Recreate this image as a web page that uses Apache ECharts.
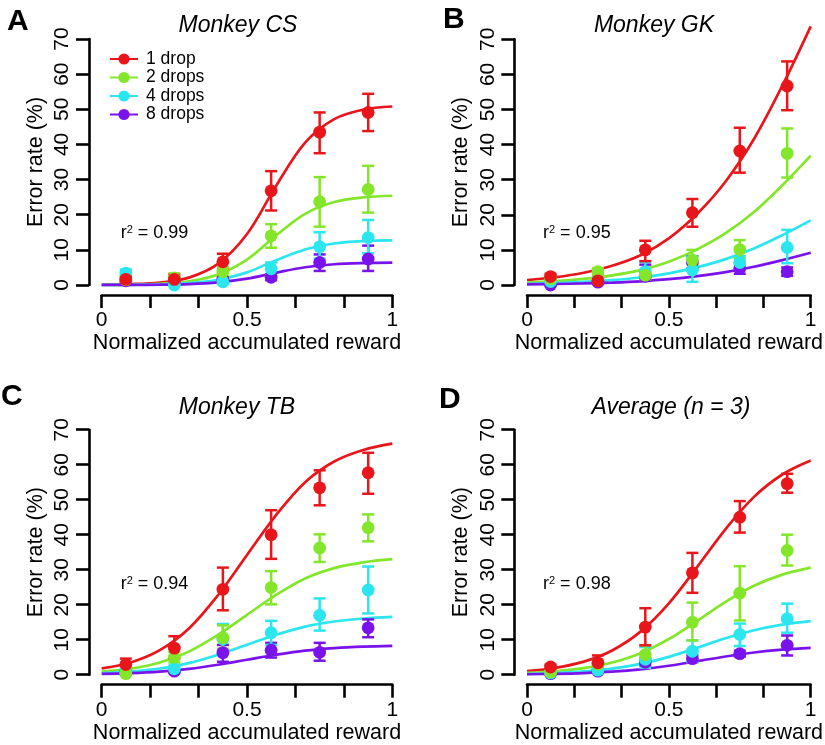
<!DOCTYPE html>
<html>
<head>
<meta charset="utf-8">
<script src="https://cdn.jsdelivr.net/npm/echarts@6/dist/echarts.min.js"></script>
<style>
html,body{margin:0;padding:0;background:#fff;}
#chart{width:825px;height:745px;}
</style>
</head>
<body>
<div id="chart"></div>
<script>
// ---------- data ----------
const binX = [0.083, 0.25, 0.417, 0.583, 0.75, 0.917];
const curveX = [0, 0.1, 0.2, 0.3, 0.4, 0.5, 0.6, 0.7, 0.8, 0.9, 1.0];
const dropNames = ['1 drop', '2 drops', '4 drops', '8 drops'];
const panelTitles = ['Monkey CS', 'Monkey GK', 'Monkey TB', 'Average (n = 3)'];
const panelLetters = ['A', 'B', 'C', 'D'];
const r2Values = ['0.99', '0.95', '0.94', '0.98'];
const yTicks = [0, 10, 20, 30, 40, 50, 60, 70];
const xTickValues = [0, 0.16667, 0.33333, 0.5, 0.66667, 0.83333, 1];
const xTickLabels = [0, 0.5, 1];

// Panel A (Monkey CS)
const A1 = [1.6, 1.6, 6.6, 26.8, 43.5, 49.1], A1lo = [0.6, 0.4, 4.4, 21.2, 37.5, 43.8], A1hi = [2.6, 2.9, 8.9, 32.4, 49.1, 54.4];
const A2 = [1.5, 2.0, 3.8, 14.0, 23.7, 27.2], A2lo = [0.7, 1.0, 2.5, 10.6, 16.6, 20.6], A2hi = [2.3, 3.3, 5.1, 17.3, 30.7, 33.9];
const A4 = [3.4, 0.0, 0.9, 4.6, 10.9, 13.5], A4lo = [2.4, 0.0, 0.3, 2.8, 7.5, 9.0], A4hi = [4.4, 0.8, 1.6, 6.4, 15.0, 18.5];
const A8 = [1.2, 0.8, 1.6, 2.2, 6.4, 7.4], A8lo = [0.6, 0.3, 1.0, 1.4, 4.0, 4.0], A8hi = [1.8, 1.3, 2.3, 3.0, 8.7, 11.2];
const A1c = [0.08, 0.24, 0.72, 2.1, 6.0, 14.5, 28.2, 40.5, 47.2, 49.9, 50.8];
const A2c = [0.04, 0.12, 0.36, 1.05, 3.0, 7.25, 14.1, 20.25, 23.6, 24.95, 25.4];
const A4c = [0.02, 0.06, 0.18, 0.53, 1.5, 3.6, 7.05, 10.1, 11.8, 12.5, 12.7];
const A8c = [0.01, 0.03, 0.09, 0.26, 0.75, 1.8, 3.5, 5.05, 5.9, 6.24, 6.35];

// Panel B (Monkey GK)
const B1 = [2.4, 1.2, 10.0, 20.6, 38.2, 56.7], B1lo = [1.6, 0.6, 6.8, 16.6, 32.0, 49.8], B1hi = [3.2, 1.8, 12.6, 24.5, 44.8, 63.7];
const B2 = [1.8, 3.8, 2.8, 7.1, 10.1, 37.5], B2lo = [1.0, 2.8, 1.6, 4.2, 7.6, 30.6], B2hi = [2.6, 4.8, 4.4, 10.0, 12.8, 44.6];
const B4 = [1.0, 1.4, 3.8, 4.3, 6.4, 10.7], B4lo = [0.4, 0.8, 1.8, 0.9, 4.6, 6.2], B4hi = [1.6, 2.0, 6.6, 8.1, 8.2, 15.7];
const B8 = [0.0, 0.8, 2.5, 6.5, 4.7, 3.8], B8lo = [0.0, 0.4, 1.2, 4.8, 3.2, 2.6], B8hi = [0.6, 1.2, 5.8, 8.2, 6.2, 5.0];
const B1c = [1.4, 2.2, 3.5, 5.5, 8.5, 13.3, 20.3, 29.5, 41.6, 56.8, 73.7];
const B2c = [0.7, 1.1, 1.75, 2.75, 4.25, 6.65, 10.15, 14.75, 20.8, 28.4, 36.85];
const B4c = [0.35, 0.55, 0.88, 1.38, 2.13, 3.33, 5.08, 7.38, 10.4, 14.2, 18.4];
const B8c = [0.18, 0.28, 0.44, 0.69, 1.06, 1.66, 2.54, 3.69, 5.2, 7.1, 9.2];

// Panel C (Monkey TB)
const C1 = [2.9, 7.6, 24.4, 40.0, 53.4, 57.7], C1lo = [1.2, 4.6, 18.4, 33.1, 48.4, 51.7], C1hi = [4.6, 11.0, 30.6, 47.0, 58.4, 63.4];
const C2 = [0.3, 5.0, 10.6, 24.9, 36.2, 42.0], C2lo = [0.0, 3.5, 7.4, 20.1, 32.2, 38.1], C2hi = [1.0, 6.5, 14.1, 29.6, 40.1, 45.8];
const C4 = [0.8, 1.7, 10.2, 12.0, 17.0, 24.2], C4lo = [0.2, 0.8, 7.0, 8.5, 12.6, 17.5], C4hi = [1.4, 2.6, 14.5, 15.4, 21.8, 30.9];
const C8 = [0.5, 1.0, 6.3, 7.0, 6.4, 13.4], C8lo = [0.1, 0.5, 3.7, 4.9, 4.0, 10.7], C8hi = [0.9, 1.5, 8.5, 9.1, 9.1, 15.8];
const C1c = [1.8, 3.5, 7.0, 13.2, 22.7, 34.2, 45.6, 55.0, 60.9, 64.2, 66.0];
const C2c = [0.9, 1.75, 3.5, 6.6, 11.35, 17.1, 22.8, 27.5, 30.45, 32.1, 33.0];
const C4c = [0.45, 0.88, 1.75, 3.3, 5.7, 8.55, 11.4, 13.75, 15.2, 16.05, 16.5];
const C8c = [0.22, 0.44, 0.88, 1.65, 2.84, 4.28, 5.7, 6.88, 7.6, 8.03, 8.25];

// Panel D (Average)
const D1 = [2.2, 3.4, 13.6, 29.1, 45.0, 54.6], D1lo = [1.5, 1.7, 8.4, 23.4, 40.6, 52.0], D1hi = [2.9, 5.5, 19.0, 34.8, 49.6, 57.4];
const D2 = [0.8, 3.0, 5.7, 15.0, 23.3, 35.5], D2lo = [0.3, 2.0, 3.5, 9.8, 15.5, 31.2], D2hi = [1.3, 4.0, 8.4, 20.6, 31.0, 40.0];
const D4 = [0.5, 1.3, 4.4, 6.7, 11.5, 16.0], D4lo = [0.2, 0.7, 2.0, 3.6, 8.2, 12.0], D4hi = [0.8, 1.9, 7.9, 9.8, 14.6, 20.3];
const D8 = [0.3, 1.0, 3.6, 4.6, 6.0, 8.4], D8lo = [0.1, 0.6, 2.6, 3.6, 5.2, 5.5], D8hi = [0.5, 1.4, 4.6, 5.6, 6.8, 11.2];
const D1c = [1.0, 1.96, 3.73, 6.93, 12.3, 20.4, 30.8, 41.6, 50.8, 57.2, 61.2];
const D2c = [0.5, 0.98, 1.87, 3.47, 6.15, 10.2, 15.4, 20.8, 25.4, 28.6, 30.6];
const D4c = [0.25, 0.49, 0.93, 1.73, 3.08, 5.1, 7.7, 10.4, 12.7, 14.3, 15.3];
const D8c = [0.13, 0.25, 0.47, 0.87, 1.54, 2.55, 3.85, 5.2, 6.35, 7.15, 7.65];

// ---------- assembly ----------
const colors = ['#e8161b', '#84e62a', '#2be6ef', '#7a12ec'];
const FONT = "'Liberation Sans', Arial, Helvetica, sans-serif";

const panels = [
  {mean: [A1, A2, A4, A8], lo: [A1lo, A2lo, A4lo, A8lo], hi: [A1hi, A2hi, A4hi, A8hi], curve: [A1c, A2c, A4c, A8c]},
  {mean: [B1, B2, B4, B8], lo: [B1lo, B2lo, B4lo, B8lo], hi: [B1hi, B2hi, B4hi, B8hi], curve: [B1c, B2c, B4c, B8c]},
  {mean: [C1, C2, C4, C8], lo: [C1lo, C2lo, C4lo, C8lo], hi: [C1hi, C2hi, C4hi, C8hi], curve: [C1c, C2c, C4c, C8c]},
  {mean: [D1, D2, D4, D8], lo: [D1lo, D2lo, D4lo, D8lo], hi: [D1hi, D2hi, D4hi, D8hi], curve: [D1c, D2c, D4c, D8c]}
];

// layout (pixels)
const grids = [
  {left: 101.7, top: 39, width: 290.6, height: 246},
  {left: 527, top: 39.3, width: 290.3, height: 245.7},
  {left: 101.7, top: 429.7, width: 290.6, height: 245},
  {left: 527, top: 429.7, width: 290.3, height: 245}
];
const titlePos = [[238, 26], [654, 26], [237, 408], [671, 408]];
const letterPos = [[7, 7], [443, 5], [1, 382], [439, 385]];
const r2Pos = [[120.7, 233], [543, 233], [120.7, 584], [543, 584]];

function errRender(params, api) {
  const x = api.value(0), lo = api.value(1), hi = api.value(2);
  const pLo = api.coord([x, lo]), pHi = api.coord([x, hi]);
  const hw = 6;
  const style = {stroke: api.visual('color'), lineWidth: 2.5, fill: null};
  return {
    type: 'group',
    children: [
      {type: 'line', shape: {x1: pLo[0], y1: pLo[1], x2: pHi[0], y2: pHi[1]}, style: style},
      {type: 'line', shape: {x1: pLo[0] - hw, y1: pLo[1], x2: pLo[0] + hw, y2: pLo[1]}, style: style},
      {type: 'line', shape: {x1: pHi[0] - hw, y1: pHi[1], x2: pHi[0] + hw, y2: pHi[1]}, style: style}
    ]
  };
}

const series = [];
panels.forEach((p, pi) => {
  for (let d = 0; d < 4; d++) {
    series.push({
      type: 'line', name: dropNames[d], xAxisIndex: pi, yAxisIndex: pi,
      data: curveX.map((x, i) => [x, p.curve[d][i]]),
      smooth: 0.35, symbol: 'circle', showSymbol: false, clip: false,
      lineStyle: {color: colors[d], width: 2.7}, itemStyle: {color: colors[d]},
      silent: true, z: 2
    });
  }
});
panels.forEach((p, pi) => {
  for (let d = 3; d >= 0; d--) {
    series.push({
      type: 'custom', name: dropNames[d] + ' err', xAxisIndex: pi, yAxisIndex: pi,
      renderItem: errRender, clip: false, silent: true,
      itemStyle: {color: colors[d]},
      encode: {x: 0, y: [1, 2]},
      data: binX.map((x, i) => [x, p.lo[d][i], p.hi[d][i]]), z: 3
    });
    series.push({
      type: 'scatter', name: dropNames[d] + ' pts', xAxisIndex: pi, yAxisIndex: pi,
      symbol: 'circle', symbolSize: 12.8, silent: true,
      itemStyle: {color: colors[d], opacity: 1},
      data: binX.map((x, i) => [x, p.mean[d][i]]), z: 3
    });
  }
});

const xAxes = grids.map((g, i) => ({
  type: 'value', gridIndex: i, min: 0, max: 1, offset: 10,
  axisLine: {show: true, onZero: false, lineStyle: {color: '#000', width: 2.6}},
  axisTick: {show: true, inside: false, length: 13, lineStyle: {color: '#000', width: 2.6}, customValues: xTickValues},
  axisLabel: {show: true, customValues: xTickLabels, formatter: v => String(v), color: '#000', fontSize: 21, fontFamily: FONT, margin: 15},
  splitLine: {show: false},
  name: 'Normalized accumulated reward', nameLocation: 'middle', nameGap: 35,
  nameTextStyle: {color: '#000', fontSize: 21.5, fontFamily: FONT}
}));
const yAxes = grids.map((g, i) => ({
  type: 'value', gridIndex: i, min: 0, max: 70, interval: 10, offset: 12.7,
  axisLine: {show: true, onZero: false, lineStyle: {color: '#000', width: 2.6}},
  axisTick: {show: true, inside: false, length: 13, lineStyle: {color: '#000', width: 2.6}, customValues: yTicks},
  axisLabel: {show: true, customValues: yTicks, rotate: 90, color: '#000', fontSize: 21, fontFamily: FONT, margin: 16},
  splitLine: {show: false},
  name: 'Error rate (%)', nameLocation: 'middle', nameGap: 42,
  nameTextStyle: {color: '#000', fontSize: 21.5, fontFamily: FONT}
}));

const graphics = [];
for (let i = 0; i < 4; i++) {
  graphics.push({type: 'text', x: titlePos[i][0], y: titlePos[i][1], silent: true,
    style: {text: panelTitles[i], font: 'italic 23px ' + FONT, fill: '#000', align: 'center', verticalAlign: 'middle'}});
  graphics.push({type: 'text', x: letterPos[i][0], y: letterPos[i][1], silent: true,
    style: {text: panelLetters[i], font: 'bold 30px ' + FONT, fill: '#000', align: 'left', verticalAlign: 'top'}});
  graphics.push({type: 'text', x: r2Pos[i][0], y: r2Pos[i][1], silent: true,
    style: {text: '{b|r}{s|2}{b| = ' + r2Values[i] + '}', align: 'left', verticalAlign: 'middle',
      rich: {b: {fontSize: 18, fontFamily: FONT, fill: '#000', color: '#000'},
             s: {fontSize: 11, fontFamily: FONT, fill: '#000', color: '#000', verticalAlign: 'top'}}}});
}

const chart = echarts.init(document.getElementById('chart'), null, {renderer: 'canvas'});
chart.setOption({
  animation: false,
  backgroundColor: '#fff',
  grid: grids.map(g => Object.assign({containLabel: false}, g)),
  xAxis: xAxes,
  yAxis: yAxes,
  legend: {
    data: dropNames, orient: 'vertical', left: 104, top: 45,
    itemWidth: 28, itemHeight: 14, itemGap: 0.5,
    textStyle: {fontSize: 17.5, fontFamily: FONT, color: '#000', lineHeight: 14.5, padding: [0, 0, 0, 3]},
    selectedMode: false
  },
  series: series,
  graphic: graphics
});
</script>
</body>
</html>
